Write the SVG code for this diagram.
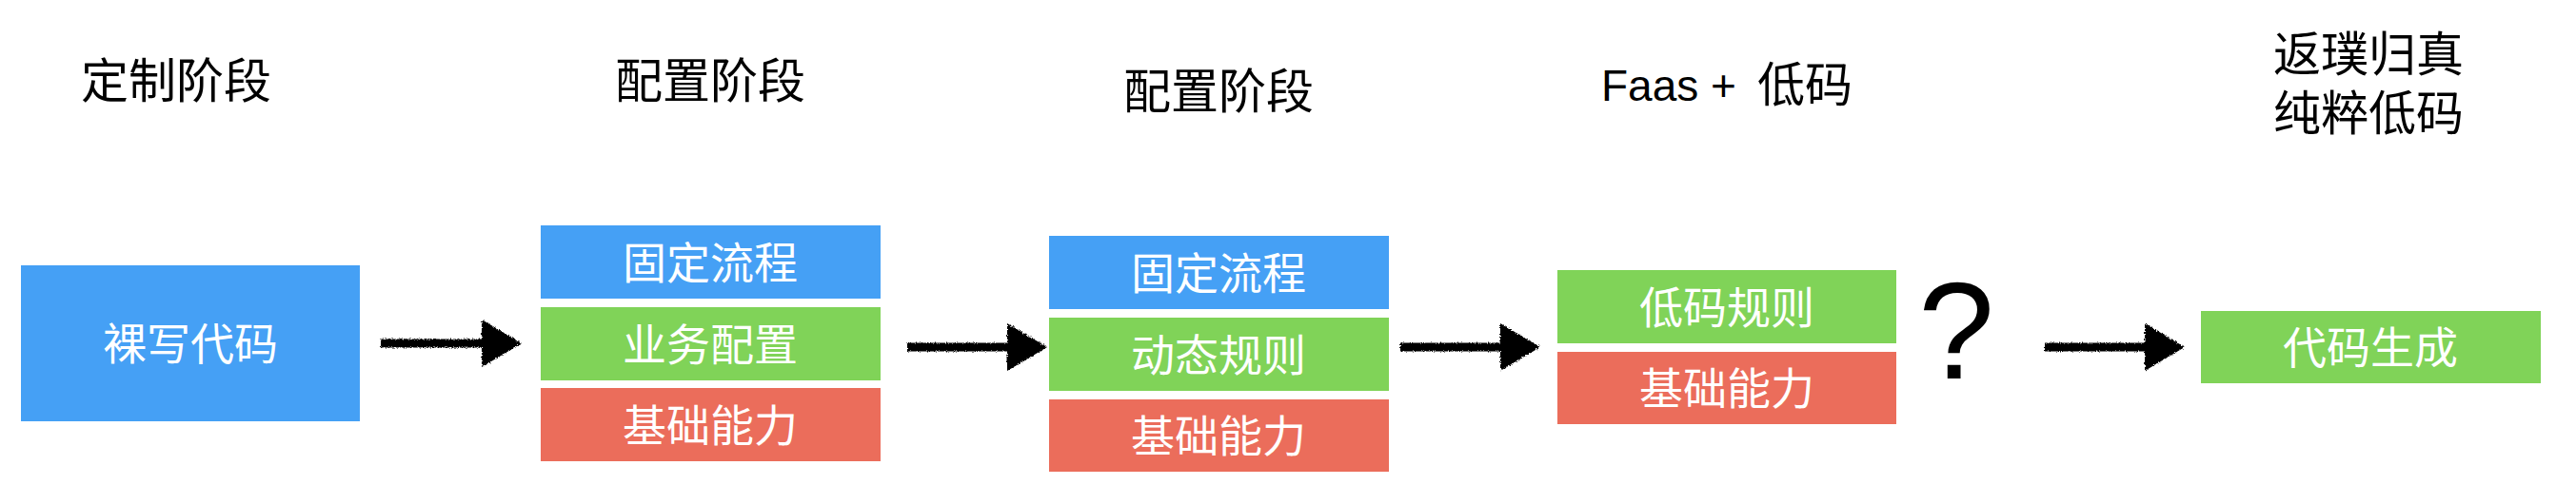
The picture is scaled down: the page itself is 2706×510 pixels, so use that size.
<svg xmlns="http://www.w3.org/2000/svg" width="2706" height="510" viewBox="0 0 2706 510">
  <style>
    .title { font-family: "Noto Sans CJK SC", "Liberation Sans", sans-serif; font-size: 50px; fill: #000; text-anchor: middle; }
    .stack { font-family: "Liberation Sans", "Noto Sans CJK SC", sans-serif; font-size: 50px; fill: #000; text-anchor: middle; }
    .latin { font-family: "Liberation Sans", "Noto Sans CJK SC", sans-serif; font-size: 46px; fill: #000; }
    .lbl { font-family: "Noto Sans CJK SC", "Liberation Sans", sans-serif; font-size: 46px; fill: #fff; text-anchor: middle; }
    .blue { fill: #45A0F5; }
    .green { fill: #80D358; }
    .red { fill: #EB6D5B; }
    .shaft { stroke: #000; stroke-width: 9; fill: none; marker-end: url(#head); }
  </style>
  <defs>
    <filter id="rough" filterUnits="userSpaceOnUse" x="0" y="0" width="2706" height="510">
      <feTurbulence type="fractalNoise" baseFrequency="0.9" numOctaves="2" seed="3" result="n"/>
      <feDisplacementMap in="SourceGraphic" in2="n" scale="4" xChannelSelector="R" yChannelSelector="G"/>
    </filter>
    <marker id="head" markerUnits="userSpaceOnUse" markerWidth="44" markerHeight="52" refX="0" refY="25" orient="auto" overflow="visible">
      <path d="M0,0 L42,25 L0,50 Z" fill="#000"/>
    </marker>
  </defs>
  <rect width="2706" height="510" fill="#fff"/>

  <g id="titles">
    <text class="title" x="185" y="103">定制阶段</text>
    <text class="title" x="746" y="103">配置阶段</text>
    <text class="title" x="1280" y="114">配置阶段</text>
    <text class="latin" x="1682" y="106">Faas +</text>
    <text class="title" x="1846" y="107" style="text-anchor:start">低码</text>
    <text class="stack" x="2488" y="75">返璞归真</text>
    <text class="stack" x="2488" y="137">纯粹低码</text>
  </g>

  <g id="node-custom">
    <rect class="blue" x="22" y="279" width="356" height="164"/>
    <text class="lbl" x="200" y="378">裸写代码</text>
  </g>

  <g id="node-config1">
    <rect class="blue" x="568" y="237" width="357" height="77"/>
    <text class="lbl" x="746" y="293">固定流程</text>
    <rect class="green" x="568" y="323" width="357" height="77"/>
    <text class="lbl" x="746" y="379">业务配置</text>
    <rect class="red" x="568" y="408" width="357" height="77"/>
    <text class="lbl" x="746" y="464">基础能力</text>
  </g>

  <g id="node-config2">
    <rect class="blue" x="1102" y="248" width="357" height="77"/>
    <text class="lbl" x="1280" y="304">固定流程</text>
    <rect class="green" x="1102" y="334" width="357" height="77"/>
    <text class="lbl" x="1280" y="390">动态规则</text>
    <rect class="red" x="1102" y="420" width="357" height="76"/>
    <text class="lbl" x="1280" y="475">基础能力</text>
  </g>

  <g id="node-faas">
    <rect class="green" x="1636" y="284" width="356" height="77"/>
    <text class="lbl" x="1814" y="340">低码规则</text>
    <rect class="red" x="1636" y="370" width="356" height="76"/>
    <text class="lbl" x="1814" y="425">基础能力</text>
  </g>

  <g id="node-question">
    <text x="2055" y="398" style="font-family:'Liberation Sans', sans-serif; font-size:144px; text-anchor:middle; fill:#000">?</text>
  </g>

  <g id="node-codegen">
    <rect class="green" x="2312" y="327" width="357" height="76"/>
    <text class="lbl" x="2490" y="382">代码生成</text>
  </g>

  <g id="connectors" filter="url(#rough)">
    <path class="shaft" d="M400,361 H506"/>
    <path class="shaft" d="M953,365 H1058"/>
    <path class="shaft" d="M1471,365 H1576"/>
    <path class="shaft" d="M2148,365 H2253"/>
  </g>
</svg>
